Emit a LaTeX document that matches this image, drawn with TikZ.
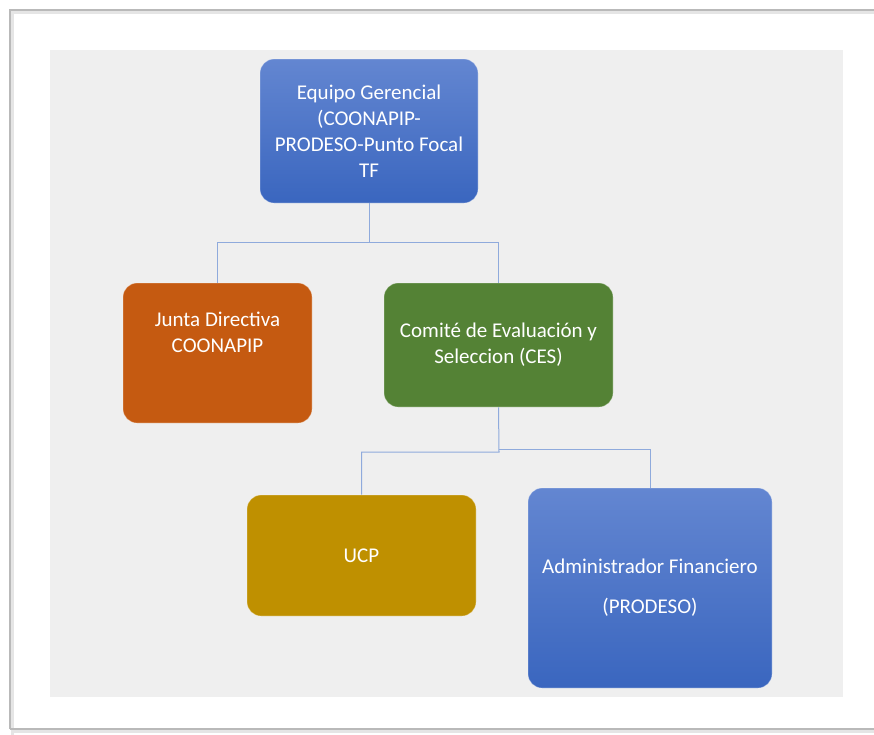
\documentclass[tikz,border=0pt]{standalone}
\usepackage{fontspec}
\setmainfont{Carlito}
\usetikzlibrary{calc}
\definecolor{panel}{HTML}{EFEFEF}
\definecolor{conncol}{HTML}{8FAADC}
\definecolor{orangebox}{HTML}{C55A11}
\definecolor{greenbox}{HTML}{548235}
\definecolor{goldbox}{HTML}{BF9000}
\definecolor{bluetop}{HTML}{6386D1}
\definecolor{bluebot}{HTML}{3A66BF}
\tikzset{
  box/.style={rounded corners=14pt, inner sep=0pt, text=white, align=center,
    font=\fontsize{21}{26}\selectfont, draw=white, draw opacity=0.35, line width=0.8pt},
  bluebox/.style={box, top color=bluetop, bottom color=bluebot},
  txt/.style={text=white, align=center, font=\fontsize{21}{26}\selectfont, inner sep=0pt},
  conn/.style={draw=conncol, line width=1pt},
  frameline/.style={draw=gray!55, line width=1.2pt},
  frameshadow/.style={draw=gray!20, line width=3pt}
}
\begin{document}
\begin{tikzpicture}[x=1pt,y=-1pt]
\useasboundingbox (0,0) rectangle (874,734);
% outer frame with shadow
\draw[frameshadow] (12,874) -- (12,12) -- (874,12);
\draw[frameshadow] (12,731) -- (874,731);
\draw[frameline] (10,729) -- (10,10) -- (874,10);
\draw[frameline] (10,729) -- (874,729);
% grey panel
\fill[panel] (50,50) rectangle (843,697);
% boxes
\node[bluebox, minimum width=218pt, minimum height=144pt] (top) at (369,131)
  {Equipo Gerencial\\(COONAPIP-\\PRODESO-Punto Focal\\TF};
\node[box, fill=orangebox, minimum width=189pt, minimum height=140pt] (junta) at (217.5,353) {};
\node[txt, yshift=20.5pt] (juntatext) at (junta.center) {Junta Directiva\\COONAPIP};
\node[box, fill=greenbox, minimum width=229pt, minimum height=124pt] (ces) at (498.5,345)
  {Comité de Evaluación y\\Seleccion (CES)};
\node[box, fill=goldbox, minimum width=229pt, minimum height=121pt] (ucp) at (361.5,555.5) {UCP};
\node[bluebox, minimum width=244pt, minimum height=200pt] (adm) at (650,588)
  {Administrador Financiero\\[14pt](PRODESO)};
% connectors
\coordinate (j1) at (369,242);
\coordinate (j2) at (499,452);
\coordinate (j3) at (499,449);
\draw[conn] (top.south) -- (top.south |- j1) -| (junta.north);
\draw[conn] (top.south |- j1) -| (ces.north);
\draw[conn] (ces.south) -- (j2) -| (ucp.north);
\draw[conn] (j3) -| (adm.north);
\end{tikzpicture}
\end{document}
